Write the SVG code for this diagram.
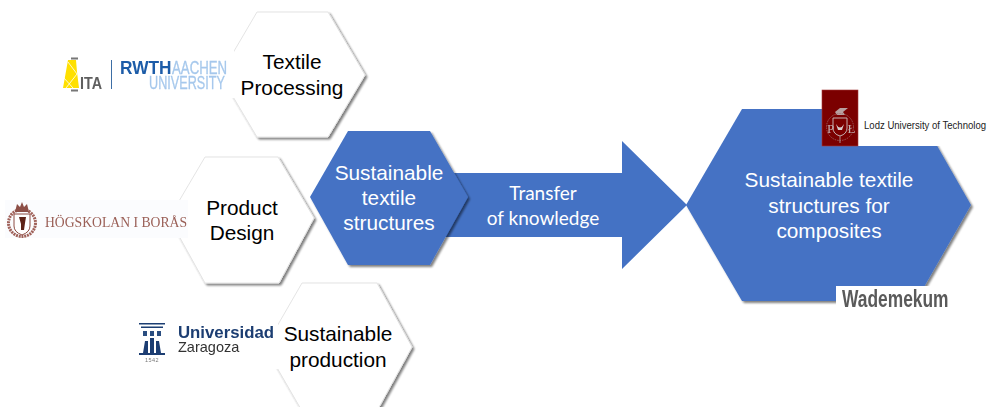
<svg xmlns="http://www.w3.org/2000/svg" width="987" height="407" viewBox="0 0 987 407">
<defs>
<filter id="sh" x="-10%" y="-10%" width="125%" height="125%"><feGaussianBlur in="SourceAlpha" stdDeviation="1.2"/><feOffset dx="2.2" dy="2.2"/><feComponentTransfer><feFuncA type="linear" slope="0.5"/></feComponentTransfer><feMerge><feMergeNode/><feMergeNode in="SourceGraphic"/></feMerge></filter>
<filter id="soft" x="-5%" y="-5%" width="110%" height="110%"><feGaussianBlur stdDeviation="0.35"/></filter>
</defs>
<style>
text{font-family:"Liberation Sans",Arial,sans-serif;text-anchor:middle}
.w{fill:#fff;stroke:#e4e4e4;stroke-width:1;filter:url(#sh)}
.b{fill:#4472c4;filter:url(#sh)}
.t{font-size:20.8px;fill:#000}
.tw{font-size:20.8px;fill:#fff}
.k{font-family:Lato,"Open Sans",sans-serif;font-size:19px;fill:#fff}
.s{text-anchor:start}
.logo{filter:url(#soft)}
</style>
<rect width="987" height="407" fill="#fff"/>
<g id="connectors">
<path fill="#4472c4" d="M445 173H622V141L687 205L622 269V237H445Z"/>
<text class="k" x="543" y="200">Transfer</text>
<text class="k" x="543" y="225">of knowledge</text>
</g>
<g id="node-textile-processing">
<path class="w" d="M257 12H328L365 75L328 137H257L220 75Z"/>
<text class="t" x="292" y="69">Textile</text>
<text class="t" x="292" y="95">Processing</text>
</g>
<g id="node-product-design">
<path class="w" d="M205 157H278L314 218L279 283H205L169 218Z"/>
<text class="t" x="242" y="215">Product</text>
<text class="t" x="242" y="240">Design</text>
</g>
<g id="node-sustainable-production">
<path class="w" d="M302 283H377L412 347L377 411H302L265 347Z"/>
<text class="t" x="338" y="341">Sustainable</text>
<text class="t" x="338" y="367">production</text>
</g>
<g id="node-sustainable-textile">
<path class="b" d="M348 131H430L468 197L430 265H348L310 197Z"/>
<text class="tw" x="389" y="180">Sustainable</text>
<text class="tw" x="389" y="205">textile</text>
<text class="tw" x="389" y="230">structures</text>
</g>
<g id="node-composites">
<path class="b" d="M742 109H916L971 205L916 301H742L686 205Z"/>
<text class="tw" x="829" y="187">Sustainable textile</text>
<text class="tw" x="829" y="213">structures for</text>
<text class="tw" x="829" y="238">composites</text>
</g>
<g id="logo-ita-rwth">
<rect x="58" y="50" width="176" height="48" fill="#fff"/>
<g class="logo">
<path d="M68 60H76L77 72L79 88H63Z" fill="#ffe000"/>
<path d="M68 62L77 74L66 88M64 78L73 88" fill="none" stroke="#fff" stroke-width=".8"/>
<rect x="71" y="57.500" width="7" height="2" fill="#777"/>
<rect x="71" y="89.500" width="7" height="2" fill="#777"/>
<text class="s" transform="translate(80 89) scale(.87 1)" style="font-size:16.5px;font-weight:bold;fill:#5f5f5f">ITA</text>
<rect x="111" y="60" width="1" height="29" fill="#3c6ea5"/>
<text class="s" transform="translate(120 74) scale(.96 1)" style="font-size:18px;font-weight:bold;fill:#1d5ca8">RWTH</text>
<text class="s" transform="translate(172 74) scale(.735 1)" style="font-size:18px;fill:#a6c8ec;stroke:#a6c8ec;stroke-width:.3">AACHEN</text>
<text class="s" transform="translate(149 89) scale(.685 1)" style="font-size:18.500px;fill:#a6c8ec;stroke:#a6c8ec;stroke-width:.3">UNIVERSITY</text>
</g>
</g>
<g id="logo-boras">
<rect x="5" y="200" width="183" height="38" fill="#fbfcfe"/>
<g class="logo">
<circle cx="22" cy="223" r="13.500" fill="none" stroke="#a0625a" stroke-width="3" stroke-dasharray="2 .8"/>
<path d="M15 212L17 204L20 207L22 202L24 207L27 204L29 212Z" fill="#8d4f46"/>
<path d="M14 214H30V226Q30 232 22 235Q14 232 14 226Z" fill="#fff" stroke="#8c4a40"/>
<path d="M19 217H26L25 223L24 230H21L21 224Z" fill="#5d2018"/>
<text x="116" y="227" style="font-family:'Liberation Serif',serif;font-size:14.500px;fill:#9a5f56" textLength="142" lengthAdjust="spacingAndGlyphs">HÖGSKOLAN I BORÅS</text>
</g>
</g>
<g id="logo-zaragoza">
<rect x="136" y="320" width="142" height="49" fill="#fff"/>
<g class="logo">
<rect x="139" y="323" width="26" height="1.500" fill="#1c3e72"/>
<rect x="141" y="326.500" width="22" height="1.500" fill="#1c3e72"/>
<path d="M143 331h4v5h-4zM150 331h4v5h-4zM157 331h4v5h-4z" fill="#2c4d80"/>
<path d="M143 353L145 341h3v12zM150 353V338h4v15zM156 353V341h3l2 12z" fill="#1c3e72"/>
<rect x="139" y="353" width="26" height="2" fill="#1c3e72"/>
<text x="152" y="361.500" style="font-size:5.500px;letter-spacing:.5px;fill:#777">1542</text>
<text class="s" x="178" y="338" style="font-size:16.800px;font-weight:bold;fill:#1c3e72">Universidad</text>
<text class="s" x="178" y="352" style="font-size:14.500px;fill:#333">Zaragoza</text>
</g>
</g>
<g id="logo-lodz">
<rect x="822" y="90" width="165" height="56" fill="#fff"/>
<rect x="822" y="90" width="36" height="56" fill="#7b0000" stroke="#a33a3a" stroke-width=".6"/>
<g class="logo">
<path d="M835 112L840 108H848L843 112L845 115H837Z" fill="#b8a0a0"/>
<path d="M833 118H847V128Q847 134 840 136Q833 134 833 128Z" fill="none" stroke="#c4b0b0"/>
<path d="M836 124Q840 131 844 124L842 130H838Z" fill="#d8cccc"/>
<circle cx="840" cy="127" r="13.500" fill="none" stroke="#a06a6a" stroke-width=".8" stroke-dasharray="1.500 1"/>
<path d="M840 136V143" stroke="#a98a8a"/>
<text x="830.500" y="132.500" style="font-family:'Liberation Serif',serif;font-size:13px;fill:#c4b0b0">P</text>
<text x="851.500" y="132.500" style="font-family:'Liberation Serif',serif;font-size:13px;fill:#c4b0b0">Ł</text>
</g>
<text class="s" transform="translate(864 129) scale(.87 1)" style="font-size:11px;fill:#222">Lodz University of Technolog</text>
</g>
<g id="logo-wademekum">
<rect x="836" y="286" width="116" height="26" fill="#fff"/>
<text class="s logo" transform="translate(842 307) scale(.74 1)" style="font-size:23.500px;font-weight:bold;fill:#5a5a5a">Wademekum</text>
</g>
</svg>
